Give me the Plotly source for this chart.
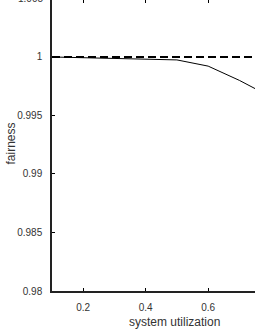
import plotly.graph_objects as go

utilization = [0.1, 0.2, 0.3, 0.4, 0.5, 0.6, 0.7, 0.8]
fairness_solid = [1.0, 0.99995, 0.9999, 0.99982, 0.99975, 0.99922, 0.99800, 0.99660]
fairness_ideal = [1.0, 1.0, 1.0, 1.0, 1.0, 1.0, 1.0, 1.0]
x_ticks = [0.2, 0.4, 0.6]
x_tick_labels = ["0.2", "0.4", "0.6"]
y_ticks = [0.98, 0.985, 0.99, 0.995, 1.0]
y_tick_labels = ["0.98", "0.985", "0.99", "0.995", "1"]

FONT = "Liberation Sans, Arial, sans-serif"
TXT = "#333333"
TICK_SIZE = 10
TITLE_SIZE = 12

W, H = 255, 330
L, B = 52, 39
PW, PH = W - L, H - B

fig = go.Figure()
fig.add_trace(go.Scatter(x=utilization, y=fairness_solid, mode="lines",
                         line=dict(color="black", width=1), showlegend=False))
fig.add_trace(go.Scatter(x=utilization, y=fairness_ideal, mode="lines",
                         line=dict(color="black", width=2, dash="8px,4px"), showlegend=False))
fig.add_trace(go.Scatter(x=utilization, y=fairness_ideal, xaxis="x2", mode="lines",
                         line=dict(width=0), opacity=0, showlegend=False, hoverinfo="skip"))

fig.update_layout(
    template="none",
    width=W, height=H,
    margin=dict(l=L, r=0, t=0, b=B, pad=0),
    plot_bgcolor="white", paper_bgcolor="white",
    font=dict(family=FONT, size=TICK_SIZE, color=TXT),
    xaxis=dict(range=[0.1, 0.75], tickvals=x_ticks, ticktext=x_tick_labels,
               ticks="inside", ticklen=3, tickcolor="black", showline=True,
               linecolor="#222222", linewidth=1.5, showgrid=False, zeroline=False,
               ticklabelstandoff=6, automargin=False,
               tickfont=dict(family=FONT, size=TICK_SIZE, color=TXT)),
    xaxis2=dict(range=[0.1, 0.75], tickvals=x_ticks, overlaying="x", side="top",
                ticks="inside", ticklen=3, tickcolor="black", showline=False,
                showticklabels=False, showgrid=False, zeroline=False, automargin=False),
    yaxis=dict(range=[0.98, 1.00487], tickvals=y_ticks, ticktext=y_tick_labels,
               ticks="inside", ticklen=3, tickcolor="black", showline=True,
               linecolor="#222222", linewidth=1.5, showgrid=False, zeroline=False,
               ticklabelstandoff=6, automargin=False,
               tickfont=dict(family=FONT, size=TICK_SIZE, color=TXT)),
    annotations=[
        dict(text="1.005", x=-7 / PW, xref="paper", y=1 + 1.5 / PH, yref="paper",
             xanchor="right", yanchor="middle", showarrow=False,
             font=dict(family=FONT, size=TICK_SIZE, color=TXT)),
        dict(text="fairness", x=(10 - L) / PW, xref="paper", y=(H - B - 143.5) / PH, yref="paper",
             xanchor="center", yanchor="middle", showarrow=False, textangle=-90,
             font=dict(family=FONT, size=TITLE_SIZE, color=TXT)),
        dict(text="system utilization", x=(174 - L) / PW, xref="paper", y=-(321.5 - PH) / PH,
             yref="paper", xanchor="center", yanchor="middle", showarrow=False,
             font=dict(family=FONT, size=TITLE_SIZE, color=TXT)),
    ],
)

fig.write_html("out.html", config={"displayModeBar": False},
               post_script="document.body.style.margin='0';document.body.style.overflow='hidden';")
